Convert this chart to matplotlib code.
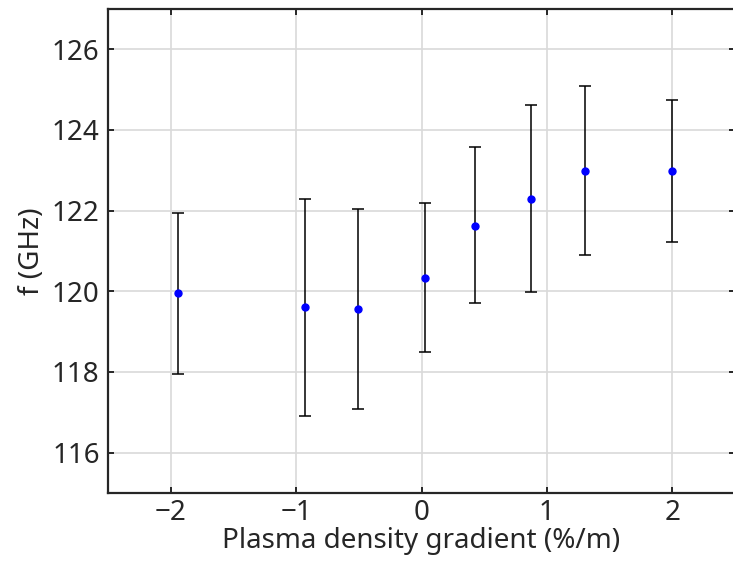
import matplotlib
matplotlib.use('Agg')
import matplotlib.pyplot as plt

# plasma density gradient (%/m) and frequency (GHz) with asymmetric bounds
gradient = [-1.94, -0.93, -0.51, 0.03, 0.43, 0.87, 1.30, 2.00]
freq = [119.95, 119.62, 119.56, 120.34, 121.62, 122.30, 122.98, 122.98]
upper = [121.94, 122.30, 122.05, 122.20, 123.59, 124.62, 125.09, 124.74]
lower = [117.95, 116.91, 117.09, 118.49, 119.70, 119.98, 120.91, 121.23]

err_lo = [f - lo for f, lo in zip(freq, lower)]
err_hi = [hi - f for f, hi in zip(freq, upper)]

plt.rcParams['font.family'] = ['Noto Sans', 'DejaVu Sans']

W, H = 733, 570
fig = plt.figure(figsize=(W / 100, H / 100), dpi=100)
ax = fig.add_axes([108 / W, (H - 493) / H, (735 - 108) / W, (493 - 9) / H])

ax.errorbar(gradient, freq, yerr=[err_lo, err_hi], fmt='none', ecolor='black',
            elinewidth=1.1, capsize=4.5, capthick=1.1, zorder=3)
ax.plot(gradient, freq, 'o', color='blue', markersize=5, zorder=4)

ax.set_xlim(-2.5, 2.5)
ax.set_ylim(115, 127)
ax.set_xticks([-2, -1, 0, 1, 2])
ax.set_yticks([116, 118, 120, 122, 124, 126])
ax.set_xticklabels(['\u22122', '\u22121', '0', '1', '2'])

ax.grid(True, color='#d9d9d9', linewidth=1.2)
ax.set_axisbelow(True)

for s in ax.spines.values():
    s.set_color('#262626')
    s.set_linewidth(1.6)

ax.tick_params(direction='in', length=4, width=1.4, top=True, right=True,
               labelsize=20, colors='#262626')
ax.tick_params(axis='y', pad=6)
ax.tick_params(axis='x', pad=4)
ax.set_xlabel('Plasma density gradient (%/m)', fontsize=20, color='#262626', labelpad=0)
ax.set_ylabel('f (GHz)', fontsize=20, color='#262626', labelpad=4)

fig.savefig('out.png', dpi=100)
